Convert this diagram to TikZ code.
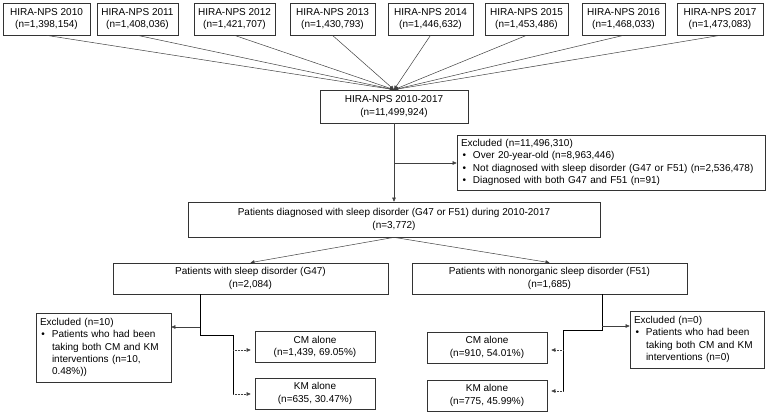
\documentclass[tikz,border=0pt]{standalone}
\usepackage{fontspec}
\setmainfont{Liberation Sans}
\usetikzlibrary{arrows.meta}
\newcommand{\blt}{\makebox[12pt][l]{\hspace{1.5pt}\textbullet}}
\newcommand{\ind}{\hspace*{12pt}}
\begin{document}
\begin{tikzpicture}[x=1pt,y=-1pt, font=\fontsize{10}{12.3}\selectfont,
  box/.style={draw=black!80, line width=0.7pt, inner sep=0pt, align=center},
  lbox/.style={box, align=left},
  ln/.style={draw=black!75, line width=0.5pt},
  arr/.style={ln, -{Triangle[length=4pt,width=3.6pt]}},
  darr/.style={arr, densely dotted, shorten >=4pt},
  elb/.style={draw=black, line width=0.8pt}]
\useasboundingbox (0,0) rectangle (769,415);

% top row
\node[box, minimum width=87pt, minimum height=32pt] (t1) at (46.5,19) {HIRA-NPS 2010\\(n=1,398,154)};
\node[box, minimum width=81pt, minimum height=32pt] (t2) at (137.5,19) {HIRA-NPS 2011\\(n=1,408,036)};
\node[box, minimum width=81pt, minimum height=32pt] (t3) at (234.5,19) {HIRA-NPS 2012\\(n=1,421,707)};
\node[box, minimum width=85pt, minimum height=32pt] (t4) at (332.5,19) {HIRA-NPS 2013\\(n=1,430,793)};
\node[box, minimum width=85pt, minimum height=32pt] (t5) at (430.5,19) {HIRA-NPS 2014\\(n=1,446,632)};
\node[box, minimum width=83pt, minimum height=32pt] (t6) at (526.5,19) {HIRA-NPS 2015\\(n=1,453,486)};
\node[box, minimum width=83pt, minimum height=32pt] (t7) at (623.5,19) {HIRA-NPS 2016\\(n=1,468,033)};
\node[box, minimum width=86pt, minimum height=32pt] (t8) at (720,19) {HIRA-NPS 2017\\(n=1,473,083)};

\node[box, minimum width=148pt, minimum height=33pt] (hira) at (394,106.5) {HIRA-NPS 2010-2017\\(n=11,499,924)};

\foreach \t in {t1,t2,t3,t4,t5,t6,t7,t8}
  \draw[arr] (\t.south) -- (hira.north);

\node[lbox, minimum width=308pt, minimum height=55pt, text width=300pt] (excl1) at (611,162.5)
 {Excluded (n=11,496,310)\\
  \blt Over 20-year-old (n=8,963,446)\\
  \blt Not diagnosed with sleep disorder (G47 or F51) (n=2,536,478)\\
  \blt Diagnosed with both G47 and F51 (n=91)};

\node[box, minimum width=412pt, minimum height=35pt] (pat) at (394,219.5)
 {Patients diagnosed with sleep disorder (G47 or F51) during 2010-2017\\(n=3,772)};

\draw[arr] (hira.south) -- (pat.north);
\coordinate (b1) at (394,163);
\draw[arr] (b1) -- (b1 -| excl1.west);

\node[box, minimum width=275pt, minimum height=31pt] (g47) at (250.5,278.5)
 {Patients with sleep disorder (G47)\\(n=2,084)};
\node[box, minimum width=275pt, minimum height=31pt] (f51) at (549.5,278.5)
 {Patients with nonorganic sleep disorder (F51)\\(n=1,685)};
\draw[arr] (pat.south) -- (g47.north);
\draw[arr] (pat.south) -- (f51.north);

% G47 branch
\node[lbox, minimum width=135pt, minimum height=69pt, text width=127pt] (ex10) at (103.5,347.5)
 {Excluded (n=10)\\
  \blt Patients who had been\\
  \ind taking both CM and KM\\
  \ind interventions (n=10,\\
  \ind 0.48\%))};
\node[box, minimum width=120pt, minimum height=31pt] (cmg) at (315,347) {CM alone\\(n=1,439, 69.05\%)};
\node[box, minimum width=120pt, minimum height=31pt] (kmg) at (315,393.5) {KM alone\\(n=635, 30.47\%)};

\coordinate (g1) at (200,294);
\coordinate (g2) at (200,335);
\coordinate (g3) at (233,335);
\coordinate (g4) at (233,394);
\draw[elb] (g1) -- (g2) -- (g3) -- (g4);
\coordinate (gb) at (200,327);
\draw[arr] (gb) -- (gb -| ex10.east);
\coordinate (gc) at (233,350);
\draw[darr] (gc) -- (gc -| cmg.west);
\draw[darr] (g4) -- (g4 -| kmg.west);

% F51 branch
\node[lbox, minimum width=134pt, minimum height=57pt, text width=126pt] (ex0) at (697,339.5)
 {Excluded (n=0)\\
  \blt Patients who had been\\
  \ind taking both CM and KM\\
  \ind interventions (n=0)};
\node[box, minimum width=120pt, minimum height=31pt] (cmf) at (487,347.5) {CM alone\\(n=910, 54.01\%)};
\node[box, minimum width=120pt, minimum height=31pt] (kmf) at (487,395.5) {KM alone\\(n=775, 45.99\%)};

\coordinate (f1) at (602,294);
\coordinate (f2) at (602,330);
\coordinate (f3) at (563,330);
\coordinate (f4) at (563,391);
\draw[elb] (f1) -- (f2) -- (f3) -- (f4);
\coordinate (fb) at (602,326);
\draw[arr] (fb) -- (fb -| ex0.west);
\coordinate (fc) at (563,350);
\draw[darr] (fc) -- (fc -| cmf.east);
\draw[darr] (f4) -- (f4 -| kmf.east);
\end{tikzpicture}
\end{document}
